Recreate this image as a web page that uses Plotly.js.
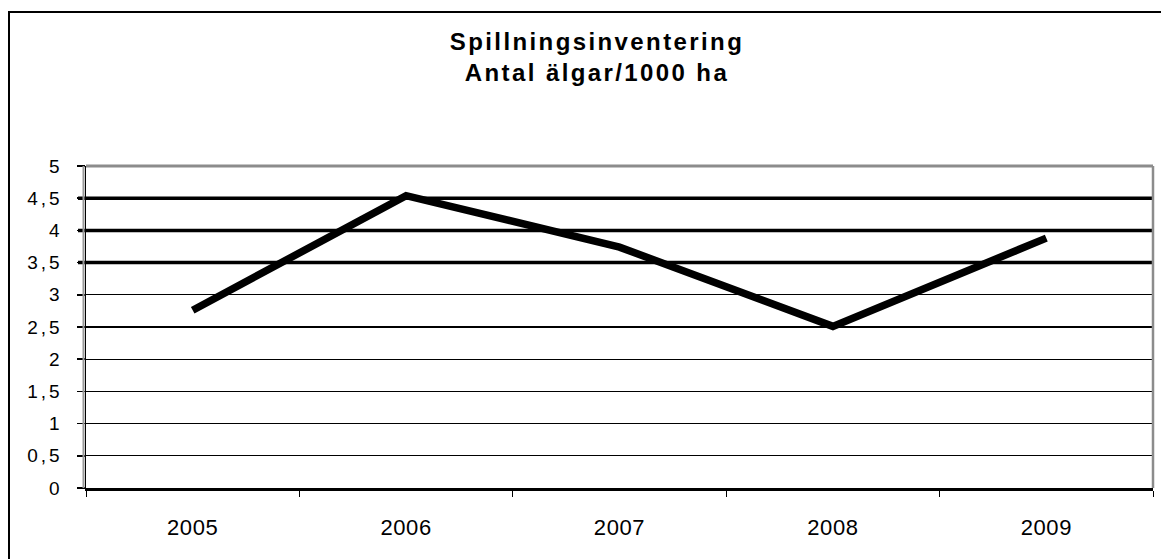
<!DOCTYPE html>
<html>
<head>
<meta charset="utf-8">
<script src="https://cdn.plot.ly/plotly-3.0.1.min.js"></script>
<style>
  html, body { margin: 0; padding: 0; background: #fff; overflow: hidden; }
  #frame { position: absolute; left: 8px; top: 11px; width: 3000px; height: 3000px;
           border-left: 2px solid #000; border-top: 2px solid #000; pointer-events: none; }
  #chart { position: absolute; left: 0; top: 0; }
  #chart .gtitle { letter-spacing: 2.4px; }
  #chart .ytick text { letter-spacing: 3px; }
  #chart .xtick text { letter-spacing: 0.6px; }
</style>
</head>
<body>
<div id="chart"></div>
<div id="frame"></div>
<script>
const years = ['2005', '2006', '2007', '2008', '2009'];
const moosePer1000ha = [2.76, 4.54, 3.74, 2.51, 3.88];
const yTickValues = [0, 0.5, 1, 1.5, 2, 2.5, 3, 3.5, 4, 4.5, 5];
const thickGridValues = [3.5, 4, 4.5];
const titleLines = ['Spillningsinventering', 'Antal älgar/1000 ha'];

const fontFamily = 'Liberation Sans, Arial, sans-serif';

const shapes = [];
thickGridValues.forEach(v => {
  shapes.push({type: 'line', xref: 'paper', yref: 'y', x0: -8/1067, x1: 1, y0: v, y1: v,
               line: {color: '#000', width: 3.5}, layer: 'above'});
});
// top and right plot border (grey)
shapes.push({type: 'line', xref: 'paper', yref: 'paper', x0: 0, x1: 1, y0: 1, y1: 1,
             line: {color: '#8c8c8c', width: 3}, layer: 'above'});
shapes.push({type: 'line', xref: 'paper', yref: 'paper', x0: 1, x1: 1, y0: 0, y1: 1,
             line: {color: '#8c8c8c', width: 2.5}, layer: 'above'});
// left shadow
shapes.push({type: 'line', xref: 'paper', yref: 'paper', x0: -2.5/1067, x1: -2.5/1067, y0: 0, y1: 1,
             line: {color: '#9a9a9a', width: 2}, layer: 'above'});

const trace = {
  x: years,
  y: moosePer1000ha,
  type: 'scatter',
  mode: 'lines',
  line: {color: '#000', width: 7.5},
  hoverinfo: 'skip'
};

const layout = {
  width: 1161,
  height: 559,
  margin: {l: 86, r: 8, t: 166, b: 71, pad: 0},
  paper_bgcolor: '#fff',
  plot_bgcolor: '#fff',
  separators: ', ',
  showlegend: false,
  font: {family: fontFamily, color: '#000', size: 18},
  title: {
    text: '<b>' + titleLines.join('<br>') + '</b>',
    font: {family: fontFamily, size: 24, color: '#000'},
    xref: 'container', yref: 'container',
    x: 597 / 1161, xanchor: 'center',
    y: 1 - 50 / 559, yanchor: 'top'
  },
  xaxis: {
    type: 'category',
    range: [-0.5, 4.5],
    showgrid: false,
    zeroline: false,
    showline: true,
    linecolor: '#000',
    linewidth: 3,
    ticks: 'outside',
    tickson: 'boundaries',
    ticklen: 6,
    tickwidth: 1,
    tickcolor: '#000',
    ticklabelstandoff: 18,
    tickfont: {family: fontFamily, size: 22, color: '#000'},
    fixedrange: true
  },
  yaxis: {
    range: [0, 5],
    tickvals: yTickValues,
    ticktext: yTickValues.map(v => String(v).replace('.', ',')),
    showgrid: true,
    gridcolor: '#000',
    gridwidth: 1.3,
    zeroline: false,
    showline: true,
    linecolor: '#000',
    linewidth: 1.5,
    ticks: 'outside',
    ticklen: 8,
    tickwidth: 1.5,
    tickcolor: '#000',
    ticklabelstandoff: 10,
    tickfont: {family: fontFamily, size: 19, color: '#000'},
    fixedrange: true
  },
  shapes: shapes
};

Plotly.newPlot('chart', [trace], layout, {displayModeBar: false, staticPlot: true});
</script>
</body>
</html>
